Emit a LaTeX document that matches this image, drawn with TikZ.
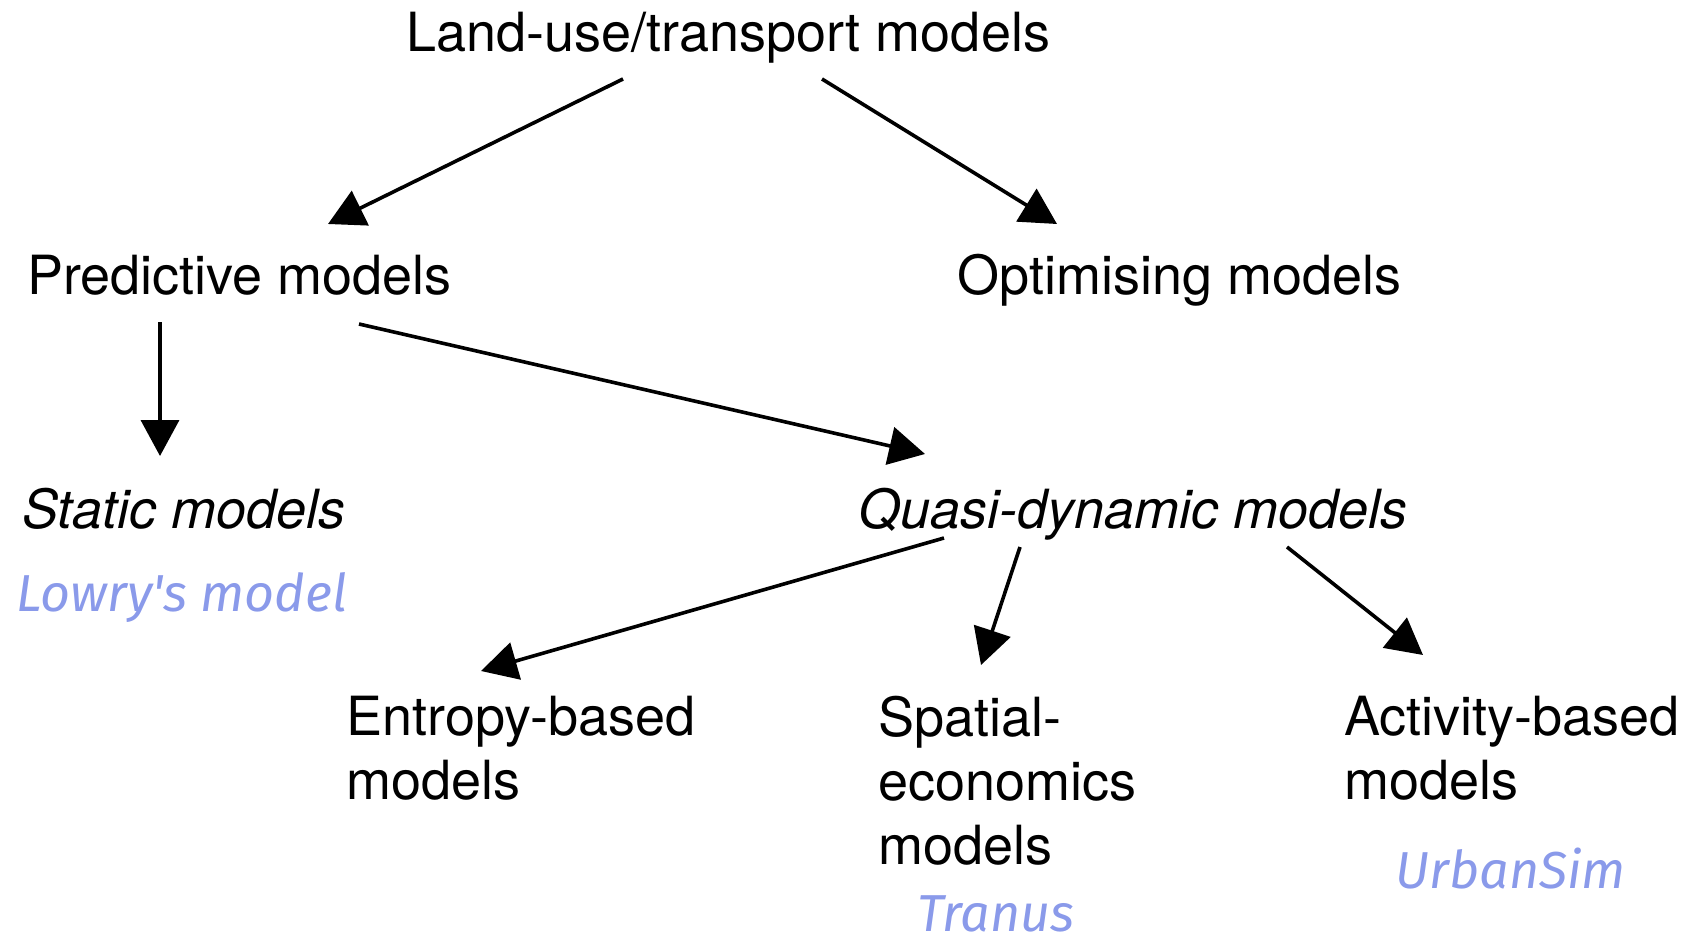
\documentclass[tikz,border=0pt]{standalone}
\usepackage{fontspec}
\setmainfont{TeX Gyre Heros}
\newfontfamily\handfont{Fira Sans}
\usetikzlibrary{arrows.meta,calc}

\definecolor{handblue}{RGB}{138,154,234}

\tikzset{
  modeltext/.style={anchor=base west,inner sep=0pt,align=left,
    font=\fontsize{27}{32}\selectfont},
  tool/.style={anchor=base west,inner sep=0pt,text=handblue,
    font=\handfont\itshape\fontsize{26}{30}\selectfont},
  arr/.style={-{Triangle[length=18pt,width=19pt]},line width=1.8pt}
}

\begin{document}
\begin{tikzpicture}[x=0.5pt,y=-0.5pt]
    \useasboundingbox (0,0) rectangle (1696,947);

    % boxes of text
    \node[modeltext] (title) at (406,52) {Land-use/transport models};
    \node[modeltext] (pred) at (27,294) {Predictive models};
    \node[modeltext] (optim) at (957,294) {Optimising models};
    \node[modeltext] (static) at (22,528) {\itshape Static models};
    \node[modeltext] (quasi) at (858,528) {\itshape Quasi-dynamic models};
    % base of a wrapped node sits under its last line
    \node[modeltext] (entropy) at (346,799) {Entropy-based\\models};
    \node[modeltext] (spatial) at (878,864) {Spatial-\\economics\\models};
    \node[modeltext] (activity) at (1344,799) {Activity-based\\models};

    % example models
    \node[tool] (lowry) at (16,611) {Lowry's model};
    \node[tool] (tranus) at (917,931) {Tranus};
    \node[tool] (urbansim) at (1395,888) {UrbanSim};

    % arrows
    \draw[arr] ($(title.base west)+(217,27)$) -- ($(pred.base west)+(301,-70)$);
    \draw[arr] ($(title.base west)+(416,27)$) -- ($(optim.base west)+(100,-70)$);
    \draw[arr] ($(pred.base west)+(133,28)$) -- ($(static.base west)+(138,-72)$);
    \draw[arr] ($(pred.base west)+(332,30)$) -- ($(quasi.base west)+(67,-74)$);
    \draw[arr] ($(quasi.base west)+(86,10)$) -- ($(entropy.base west)+(135,-128)$);
    \draw[arr] ($(quasi.base west)+(162,19)$) -- ($(spatial.base west)+(103,-199)$);
    \draw[arr] ($(quasi.base west)+(429,19)$) -- ($(activity.base west)+(79,-144)$);
\end{tikzpicture}
\end{document}
